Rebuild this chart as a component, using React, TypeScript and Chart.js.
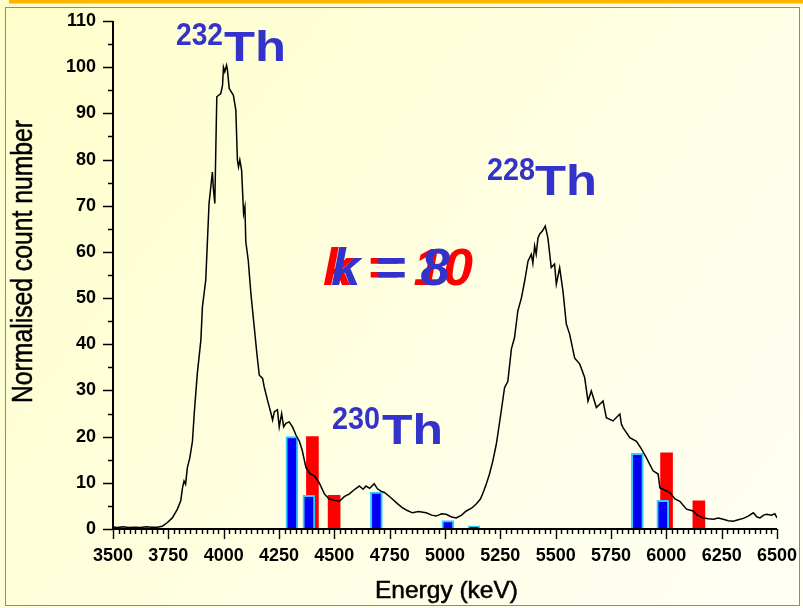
import React, { useEffect, useRef } from "react";
import { Chart, registerables } from "chart.js";

Chart.register(...registerables);

// Spectrum (energy in keV, normalised counts)
const spectrumEnergy = [
  3500, 3520, 3545, 3570, 3600, 3625, 3650, 3675, 3700, 3723, 3746, 3768, 3791, 3806, 3814, 3821, 3828, 3836,
  3847, 3859, 3867, 3881, 3897, 3904, 3919, 3934, 3949, 3953, 3960, 3965, 3969, 3987, 3995, 3999, 4005, 4013,
  4017, 4025, 4044, 4055, 4062, 4067, 4073, 4081, 4090, 4096, 4100, 4111, 4123, 4138, 4150, 4161, 4176, 4183,
  4198, 4214, 4221, 4229, 4243, 4251, 4262, 4271, 4281, 4296, 4311, 4327, 4342, 4355, 4372, 4390, 4410, 4432,
  4455, 4477, 4500, 4523, 4545, 4568, 4590, 4613, 4630, 4643, 4660, 4680, 4695, 4710, 4726, 4745, 4762, 4785,
  4808, 4830, 4853, 4880, 4915, 4940, 4960, 4985, 5005, 5030, 5051, 5075, 5096, 5120, 5141, 5160, 5170, 5185,
  5201, 5216, 5232, 5254, 5269, 5284, 5300, 5314, 5329, 5345, 5360, 5375, 5390, 5397, 5405, 5412, 5420, 5428,
  5440, 5453, 5465, 5480, 5495, 5503, 5518, 5533, 5548, 5563, 5586, 5609, 5631, 5646, 5661, 5684, 5714, 5729,
  5759, 5790, 5797, 5805, 5835, 5865, 5888, 5910, 5940, 5963, 5971, 5990, 6016, 6039, 6061, 6091, 6121, 6140,
  6167, 6190, 6212, 6235, 6257, 6280, 6302, 6325, 6348, 6370, 6393, 6410, 6423, 6440, 6453, 6475, 6490, 6500,
];
const spectrumCount = [
  0.5, 0.3, 0.5, 0.3, 0.4, 0.3, 0.5, 0.4, 0.4, 0.6, 1.4, 2.4, 4.3, 6.1, 8.9, 10.4, 9.7, 13.3,
  15.4, 19, 25, 33.7, 40.9, 48.1, 53.9, 70.5, 77.3, 74, 70.5, 83.5, 93.6, 94.3, 96.1, 100, 99, 100.4,
  99.4, 95.4, 93.9, 90.7, 79.9, 78.4, 79.9, 77.7, 68.3, 69.8, 62.2, 58.2, 51, 43.8, 38, 33.3, 32.6, 30.8,
  27.9, 25, 23.6, 25.4, 25.8, 22.1, 25, 22.1, 22.9, 23.2, 22.1, 20.3, 19, 17, 13.3, 12, 11.5, 10,
  7.6, 6.5, 6.2, 6, 7, 7.6, 8.5, 9.3, 8.6, 9.3, 8.8, 9.8, 8.7, 8.2, 7.9, 7.2, 6.5, 5.5,
  4.6, 4, 3.5, 3.8, 3.5, 3, 2.8, 3.3, 3.2, 2.6, 2.4, 3, 3.9, 4.5, 5.4, 6.5, 7.6, 9.5,
  11.9, 14.7, 18.4, 25.5, 30.6, 32, 39, 41.4, 47.2, 50, 53.7, 58, 59.5, 57.5, 61.3, 59.5, 63, 63.9,
  64.5, 65.6, 63, 56.6, 57.4, 53, 56.6, 51.5, 44.4, 42.2, 37, 35.7, 32.8, 27.7, 29.9, 26.3, 27.7, 24.1,
  23.4, 24.9, 22.7, 21.9, 19.8, 19, 17.3, 15.4, 12.6, 11.9, 8.9, 8.5, 7.9, 6.5, 6, 4.3, 3.9, 3,
  2.4, 2.2, 2.1, 2.4, 2.1, 1.8, 1.7, 2, 2.3, 2.8, 3.5, 2.6, 2.4, 3, 3.2, 3, 3.3, 2.4,
];

// Blue bars (k = 8) and red bars (k = 10)
const blueEnergies = [4308, 4385, 4690, 5013, 5131, 5869, 5984];
const blueHeights = [20, 7.3, 8, 1.8, 0.7, 16.4, 6.2];
const redEnergies = [4401, 4499, 6001, 6147];
const redHeights = [20, 7.3, 16.5, 6.1];

// Axes
const xMin = 3500;
const xMax = 6500;
const xMajorStep = 250;
const xMinorStep = 25;
const yMin = 0;
const yMax = 110;
const yMajorStep = 10;
const yMinorStep = 5;

const xTitle = "Energy (keV)";
const yTitle = "Normalised count number";

const FONT = '"Liberation Sans", Arial, sans-serif';
const BLUE_TEXT = "#3333CC";

function stretchText(
  ctx: CanvasRenderingContext2D,
  text: string,
  x: number,
  baseline: number,
  font: string,
  color: string,
  width: number,
  stroke = 0
) {
  ctx.save();
  ctx.font = font;
  const w = ctx.measureText(text).width;
  ctx.translate(x, baseline);
  ctx.scale(width / w, 1);
  ctx.fillStyle = color;
  ctx.textAlign = "left";
  ctx.textBaseline = "alphabetic";
  ctx.fillText(text, 0, 0);
  if (stroke > 0) {
    ctx.strokeStyle = color;
    ctx.lineWidth = stroke;
    ctx.strokeText(text, 0, 0);
  }
  ctx.restore();
}

const decorPlugin = {
  id: "decor",
  beforeDraw(chart: any) {
    const ctx: CanvasRenderingContext2D = chart.ctx;
    const W = chart.width;
    const H = chart.height;
    ctx.save();
    const g = ctx.createLinearGradient(0, 0, W, H);
    g.addColorStop(0, "#FEFECB");
    g.addColorStop(1, "#FFFFF6");
    ctx.fillStyle = g;
    ctx.fillRect(0, 0, W, H);
    ctx.fillStyle = "#FFB400";
    ctx.fillRect(9, 0, W - 9, 3.5);
    ctx.strokeStyle = "#8A8A8A";
    ctx.lineWidth = 1;
    ctx.strokeRect(5.5, 7.5, W - 9, H - 10);
    ctx.restore();
  },
  afterDraw(chart: any) {
    const ctx: CanvasRenderingContext2D = chart.ctx;
    const xs = chart.scales.x;
    const ys = chart.scales.y;
    const area = chart.chartArea;
    ctx.save();
    ctx.strokeStyle = "#000";
    ctx.lineWidth = 2;
    ctx.beginPath();
    ctx.moveTo(area.left, area.top);
    ctx.lineTo(area.left, area.bottom);
    ctx.lineTo(area.right, area.bottom);
    ctx.stroke();
    ctx.lineWidth = 1.4;
    ctx.beginPath();
    for (let v = yMin; v <= yMax; v += yMinorStep) {
      const py = Math.round(ys.getPixelForValue(v)) + 0.5;
      const len = v % yMajorStep === 0 ? 10 : 5;
      ctx.moveTo(area.left, py);
      ctx.lineTo(area.left - len, py);
    }
    for (let e = xMin; e <= xMax; e += xMinorStep) {
      const px = Math.round(xs.getPixelForValue(e)) + 0.5;
      const len = (e - xMin) % xMajorStep === 0 ? 10 : 5;
      ctx.moveTo(px, area.bottom);
      ctx.lineTo(px, area.bottom + len);
    }
    ctx.stroke();

    // axis titles
    stretchText(ctx, xTitle, 375, 598, `24px ${FONT}`, "#000", 143, 0.5);
    ctx.save();
    ctx.font = `30px ${FONT}`;
    const tw = ctx.measureText(yTitle).width;
    ctx.translate(32, 261.5);
    ctx.rotate(-Math.PI / 2);
    ctx.scale(283 / tw, 1);
    ctx.fillStyle = "#000";
    ctx.textAlign = "center";
    ctx.textBaseline = "alphabetic";
    ctx.fillText(yTitle, 0, 0);
    ctx.strokeStyle = "#000";
    ctx.lineWidth = 0.5;
    ctx.strokeText(yTitle, 0, 0);
    ctx.restore();

    // isotope labels
    stretchText(ctx, "232", 176, 45, `bold 32px ${FONT}`, BLUE_TEXT, 47);
    stretchText(ctx, "Th", 224, 61, `bold 43px ${FONT}`, BLUE_TEXT, 62);
    stretchText(ctx, "228", 487, 180, `bold 32px ${FONT}`, BLUE_TEXT, 48);
    stretchText(ctx, "Th", 535, 195, `bold 43px ${FONT}`, BLUE_TEXT, 62);
    stretchText(ctx, "230", 332, 429, `bold 32px ${FONT}`, BLUE_TEXT, 48);
    stretchText(ctx, "Th", 382, 444, `bold 43px ${FONT}`, BLUE_TEXT, 61);

    // k labels
    stretchText(ctx, "k = 10", 323, 285, `italic bold 52px ${FONT}`, "#FF0000", 150);
    stretchText(ctx, "k = 8", 331, 285, `italic bold 52px ${FONT}`, BLUE_TEXT, 119);
    ctx.restore();
  },
};

export default function App() {
  const ref = useRef<HTMLCanvasElement | null>(null);
  useEffect(() => {
    if (!ref.current) return;
    const spectrum = spectrumEnergy.map((e, i) => ({ x: e, y: spectrumCount[i] }));
    const blue = blueEnergies.map((e, i) => ({ x: e, y: blueHeights[i] }));
    const red = redEnergies.map((e, i) => ({ x: e, y: redHeights[i] }));
    const chart = new Chart(ref.current, {
      type: "line",
      data: {
        datasets: [
          {
            type: "line",
            data: spectrum,
            borderColor: "#000000",
            borderWidth: 1.5,
            pointRadius: 0,
            tension: 0,
            fill: false,
            order: 0,
          } as any,
          {
            type: "bar",
            data: blue,
            backgroundColor: "#0000F5",
            borderColor: "#33CCFF",
            borderWidth: 2,
            barThickness: 12,
            grouped: false,
            order: 1,
          } as any,
          {
            type: "bar",
            data: red,
            backgroundColor: "#FF0000",
            borderWidth: 0,
            barThickness: 12,
            grouped: false,
            order: 2,
          } as any,
        ],
      },
      options: {
        animation: false,
        responsive: false,
        maintainAspectRatio: false,
        layout: { padding: { left: 0, top: 21, right: 26, bottom: 0 } },
        plugins: { legend: { display: false }, tooltip: { enabled: false } },
        scales: {
          x: {
            type: "linear",
            min: xMin,
            max: xMax,
            offset: false,
            grid: { display: false, drawTicks: false },
            border: { display: false },
            ticks: {
              stepSize: xMajorStep,
              autoSkip: false,
              maxRotation: 0,
              padding: 16,
              color: "#000",
              font: { family: FONT, size: 18, weight: "bold" },
              callback: (v: any) => String(v),
            },
            afterFit: (s: any) => {
              s.height = 79;
              s.paddingLeft = 0;
              s.paddingRight = 0;
            },
          },
          y: {
            type: "linear",
            min: yMin,
            max: yMax,
            grid: { display: false, drawTicks: false },
            border: { display: false },
            ticks: {
              stepSize: yMajorStep,
              autoSkip: false,
              padding: 17,
              color: "#000",
              font: { family: FONT, size: 18, weight: "bold" },
              callback: (v: any) => String(v),
            },
            afterFit: (s: any) => {
              s.width = 113;
              s.paddingTop = 0;
              s.paddingBottom = 0;
            },
          },
        },
      },
      plugins: [decorPlugin],
    });
    return () => chart.destroy();
  }, []);
  return (
    <div style={{ position: "fixed", left: 0, top: 0, width: 803, height: 608 }}>
      <canvas ref={ref} width={803} height={608} style={{ width: 803, height: 608, display: "block" }} />
    </div>
  );
}
